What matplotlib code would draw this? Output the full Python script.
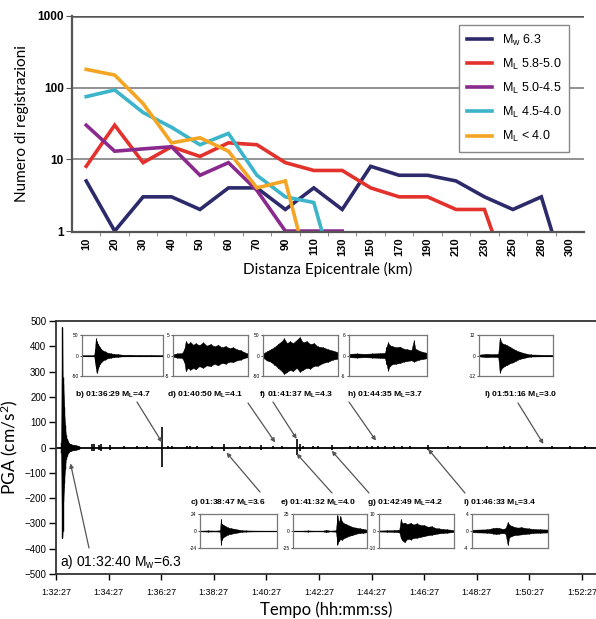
import numpy as np
import matplotlib
matplotlib.use('Agg')
import matplotlib.pyplot as plt

plt.rcParams['font.family'] = ['Liberation Sans', 'DejaVu Sans']
plt.rcParams['mathtext.default'] = 'regular'

W, H = 596, 619

# ---- top chart: number of records vs epicentral distance ----
dist_labels = ['10', '20', '30', '40', '50', '60', '70', '90', '110', '130',
               '150', '170', '190', '210', '230', '250', '280', '300']
nan = np.nan
mw_63 = [5, 1, 3, 3, 2, 4, 4, 2, 4, 2, 8, 6, 6, 5, 3, 2, 3, 0.15]
ml_58_50 = [8, 30, 9, 15, 11, 17, 16, 9, 7, 7, 4, 3, 3, 2, 2, 0.15, nan, nan]
ml_50_45 = [30, 13, 14, 15, 6, 9, 3.7, 1, 1, 1, nan, nan, nan, nan, nan, nan, nan, nan]
ml_45_40 = [75, 93, 45, 28, 16, 23, 6, 3, 2.5, 0.1, nan, nan, nan, nan, nan, nan, nan, nan]
ml_lt_40 = [180, 150, 60, 17, 20, 13, 4, 5, 0.15, nan, nan, nan, nan, nan, nan, nan, nan, nan]

series = [mw_63, ml_58_50, ml_50_45, ml_45_40, ml_lt_40]
series_names = ['M$_w$ 6.3', 'M$_L$ 5.8-5.0', 'M$_L$ 5.0-4.5', 'M$_L$ 4.5-4.0', 'M$_L$ < 4.0']
series_cols = ['#2d2a6c', '#e3312c', '#8a2a8e', '#3cb4c9', '#f4a524']

# ---- bottom chart: PGA time history ----
start_clock = '01:32:27'
tick_labels = ['1:32:27', '1:34:27', '1:36:27', '1:38:27', '1:40:27', '1:42:27',
               '1:44:27', '1:46:27', '1:48:27', '1:50:27', '1:52:27']

# main shock envelope (seconds after 1:32:27, cm/s2)
main_t = [12, 14, 15, 16, 17, 18, 19, 20, 21, 22, 24, 26, 28, 31, 35, 40, 46, 52]
main_hi = [20, 478, 277, 250, 210, 160, 120, 90, 65, 50, 35, 28, 20, 15, 12, 10, 8, 6]
main_lo = [-20, -358, -330, -211, -180, -140, -110, -85, -60, -45, -35, -25, -20, -15, -12, -10, -8, -6]

# smaller events along the trace
spike_t = [81, 87, 97, 103, 123, 156, 184, 207, 242, 256, 264, 298, 306, 321, 355, 383,
           420, 443, 468, 496, 515, 549, 556, 564, 587, 598, 629, 671, 690, 709, 720,
           735, 751, 770, 789, 808, 849, 895, 922, 983, 1021, 1036, 1074, 1131, 1173, 1207]
spike_hi = [12, 14, 8, 12, 8, 6, 5, 5, 80, 6, 5, 7, 7, 6, 4, 12,
            4, 4, 9, 5, 4, 34, 14, 6, 6, 4, 8, 4, 4, 6, 6,
            4, 4, 4, 4, 4, 9, 4, 4, 4, 4, 4, 7, 5, 6, 4]
spike_lo = [-12, -14, -8, -12, -8, -6, -5, -5, -78, -6, -5, -7, -7, -6, -4, -12,
            -4, -4, -9, -5, -4, -30, -14, -6, -6, -4, -8, -4, -4, -6, -6,
            -4, -4, -4, -4, -4, -9, -4, -4, -4, -4, -4, -7, -5, -6, -4]

# labelled events
ev_names = ['a', 'b', 'c', 'd', 'e', 'f', 'g', 'h', 'i', 'l']
ev_clock = ['01:32:40', '01:36:29', '01:38:47', '01:40:50', '01:41:32',
            '01:41:37', '01:42:49', '01:44:35', '01:46:33', '01:51:16']
ev_mtype = ['w', 'L', 'L', 'L', 'L', 'L', 'L', 'L', 'L', 'L']
ev_mag = ['6.3', '4.7', '3.6', '4.1', '4.0', '4.3', '4.2', '3.7', '3.4', '3.0']
ev_lim = [None, 50, 24, 5, 25, 50, 10, 6, 4, 12]

# inset envelopes (x = fraction of window, values in cm/s2)
env = {
    'b': ([0, 0.15, 0.16, 0.17, 0.18, 0.19, 0.20, 0.21, 0.22, 0.24, 0.26, 0.28, 0.30, 0.33, 0.36, 0.40, 0.45, 0.50, 0.6, 0.7, 0.85, 1.0],
          [1, 1, 15, 42, 35, 30, 28, 22, 20, 15, 12, 10, 8, 6, 5, 4, 3, 2, 2, 1.5, 1.5, 1],
          [-1, -1, -15, -30, -42, -38, -30, -25, -20, -16, -12, -10, -8, -6, -5, -4, -3, -2, -2, -1.5, -1.5, -1]),
    'd': ([0, 0.05, 0.12, 0.15, 0.17, 0.2, 0.23, 0.27, 0.3, 0.35, 0.4, 0.45, 0.5, 0.55, 0.6, 0.65, 0.7, 0.75, 0.8, 0.85, 0.9, 0.95, 1.0],
          [0.3, 0.5, 0.6, 1.5, 3.5, 2.8, 3.3, 2.6, 3.0, 2.5, 3.2, 2.4, 2.8, 2.2, 2.6, 2.0, 2.3, 1.8, 2.0, 1.5, 1.3, 0.8, 0.5],
          [-0.3, -0.5, -0.6, -1.5, -3.8, -3.0, -3.5, -3.0, -3.4, -2.6, -3.0, -2.4, -2.6, -2.0, -2.4, -1.8, -2.0, -1.5, -1.6, -1.2, -1.0, -0.6, -0.4]),
    'f': ([0, 0.05, 0.1, 0.15, 0.2, 0.25, 0.28, 0.32, 0.36, 0.4, 0.45, 0.49, 0.53, 0.58, 0.63, 0.68, 0.73, 0.8, 0.87, 0.93, 1.0],
          [5, 10, 15, 20, 28, 35, 42, 30, 35, 30, 38, 45, 32, 35, 28, 30, 22, 20, 15, 12, 8],
          [-5, -12, -15, -22, -30, -38, -45, -40, -35, -38, -30, -40, -35, -30, -32, -25, -25, -18, -15, -10, -8]),
    'h': ([0, 0.1, 0.2, 0.3, 0.4, 0.46, 0.48, 0.5, 0.52, 0.55, 0.6, 0.65, 0.7, 0.75, 0.8, 0.83, 0.85, 0.9, 0.95, 1.0],
          [0.5, 0.6, 0.5, 0.6, 0.7, 0.8, 2.5, 3.9, 3.0, 2.8, 2.4, 2.6, 2.0, 1.8, 1.6, 4.4, 2.0, 1.4, 1.0, 0.8],
          [-0.5, -0.6, -0.5, -0.6, -0.7, -0.8, -2.5, -4.4, -3.2, -2.6, -2.4, -2.2, -1.8, -1.6, -1.4, -1.8, -1.6, -1.2, -1.0, -0.8]),
    'l': ([0, 0.1, 0.2, 0.26, 0.28, 0.3, 0.32, 0.35, 0.38, 0.42, 0.46, 0.5, 0.55, 0.6, 0.65, 0.7, 0.8, 0.9, 1.0],
          [0.5, 1, 0.8, 1, 10.5, 8, 7, 6.5, 6, 5, 4, 3, 2.2, 1.5, 1, 0.6, 0.5, 0.4, 0.4],
          [-0.5, -1, -0.8, -1, -10, -8, -7, -6, -5.5, -4.5, -4, -3, -2, -1.5, -1, -0.6, -0.5, -0.4, -0.4]),
    'c': ([0, 0.1, 0.2, 0.26, 0.27, 0.28, 0.3, 0.33, 0.36, 0.4, 0.45, 0.5, 0.55, 0.6, 0.7, 0.8, 0.9, 1.0],
          [0.5, 0.8, 0.6, 1, 17, 10, 9, 7, 5, 4, 3, 2, 1, 0.8, 0.6, 0.5, 0.5, 0.5],
          [-0.5, -0.8, -0.6, -1, -19.5, -12, -9, -7, -5, -4, -3, -2, -1, -0.8, -0.6, -0.5, -0.5, -0.5]),
    'e': ([0, 0.1, 0.2, 0.3, 0.4, 0.45, 0.5, 0.58, 0.6, 0.62, 0.64, 0.66, 0.68, 0.72, 0.76, 0.8, 0.85, 0.9, 0.95, 1.0],
          [0.5, 0.5, 0.8, 0.5, 0.6, 1.5, 0.6, 1, 24, 12, 22, 14, 12, 10, 8, 6, 5, 4, 3, 2],
          [-0.5, -0.5, -0.8, -0.5, -0.6, -1.5, -0.6, -1, -20, -14, -12, -13, -11, -9, -7, -6, -4, -3, -2.5, -2]),
    'g': ([0, 0.1, 0.2, 0.27, 0.29, 0.31, 0.34, 0.38, 0.42, 0.46, 0.5, 0.55, 0.6, 0.65, 0.7, 0.75, 0.8, 0.85, 0.9, 1.0],
          [0.3, 0.4, 0.5, 0.8, 7, 4.5, 5, 4, 4.8, 3.8, 4.5, 3.5, 3.5, 2.5, 2.8, 1.8, 1.5, 1.2, 1, 0.6],
          [-0.3, -0.4, -0.5, -0.8, -4, -5.5, -6.5, -4.5, -5, -4, -4, -3.5, -3, -2.5, -2.2, -1.8, -1.4, -1.2, -1, -0.6]),
    'i': ([0, 0.1, 0.2, 0.28, 0.32, 0.36, 0.4, 0.44, 0.47, 0.49, 0.52, 0.55, 0.6, 0.65, 0.7, 0.75, 0.8, 0.9, 1.0],
          [0.3, 0.35, 0.4, 0.7, 0.8, 0.7, 0.5, 0.6, 2.1, 1.5, 1.2, 1.0, 0.8, 0.9, 0.7, 0.6, 0.5, 0.4, 0.35],
          [-0.3, -0.35, -0.4, -0.6, -0.7, -0.6, -0.5, -0.6, -3.3, -1.5, -1.2, -1.0, -0.9, -0.8, -0.7, -0.6, -0.5, -0.4, -0.35]),
}

# layout (pixels of the output image, y from top)
inset_box = {'b': (82, 335, 163, 376), 'd': (173, 335, 248, 376), 'f': (263, 335, 338, 376),
             'h': (349, 335, 427, 376), 'l': (479, 335, 553, 376), 'c': (200, 514, 277, 548),
             'e': (293, 514, 367, 548), 'g': (379, 514, 454, 548), 'i': (472, 514, 548, 548)}
text_pos = {'a': (60, 562), 'b': (75, 394), 'c': (190, 502), 'd': (167, 394), 'e': (280, 502),
            'f': (259, 394), 'g': (367, 502), 'h': (347, 394), 'i': (463, 502), 'l': (484, 394)}
arrow_tail = {'a': (89, 548), 'b': (137, 402), 'c': (260, 492), 'd': (248, 403), 'e': (332, 493),
              'f': (273, 402), 'g': (369, 493), 'h': (349, 402), 'i': (465, 493), 'l': (518, 403)}
arrow_tip = {'a': (20, -63), 'b': (0, 20), 'c': (9, -20), 'd': (-3, 20), 'e': (4, -24),
             'f': (-1, 34), 'g': (7, -13), 'h': (2, 27), 'i': (3, -6), 'l': (-17, 14)}


def secs(clock):
    h, m, s = [int(v) for v in clock.split(':')]
    return h * 3600 + m * 60 + s


def px_axes(fig, x0, y0, x1, y1):
    return fig.add_axes([x0 / W, 1 - y1 / H, (x1 - x0) / W, (y1 - y0) / H])


fig = plt.figure(figsize=(W / 100, H / 100), dpi=100)

# ================= top chart =================
ax1 = px_axes(fig, 72, 16, 584, 232)
xpos = np.arange(len(dist_labels))
for vals, name, col in zip(series, series_names, series_cols):
    ax1.plot(xpos, vals, color=col, lw=2.6, label=name, solid_joinstyle='miter')
ax1.set_yscale('log')
ax1.set_ylim(0.97, 1000)
ax1.set_xlim(-0.5, len(dist_labels) - 0.5)
ax1.set_yticks([1, 10, 100, 1000])
ax1.set_yticklabels(['1', '10', '100', '1000'], fontsize=8.5, fontweight='bold')
ax1.yaxis.set_minor_locator(matplotlib.ticker.NullLocator())
ax1.set_xticks(xpos)
ax1.set_xticklabels(dist_labels, rotation=90, fontsize=8, fontweight='bold')
ax1.set_xticks(xpos[:-1] + 0.5, minor=True)
ax1.tick_params(axis='x', which='major', length=0, pad=4)
ax1.tick_params(axis='x', which='minor', length=3, color='#777777')
ax1.tick_params(axis='y', length=4, color='#555555', pad=2)
for v in [10, 100, 1000]:
    ax1.axhline(v, color='#8a8a8a' if v < 1000 else '#555555', lw=1.3 if v < 1000 else 1.8, zorder=0)
ax1.spines['right'].set_visible(False)
ax1.spines['top'].set_visible(False)
ax1.spines['left'].set_color('#555555')
ax1.spines['left'].set_linewidth(1.6)
ax1.spines['bottom'].set_color('#555555')
ax1.spines['bottom'].set_linewidth(1.6)
leg = ax1.legend(loc='upper right', bbox_to_anchor=(0.971, 0.958), borderaxespad=0,
                 fontsize=9, handlelength=2.0, labelspacing=0.72, fancybox=False,
                 framealpha=1, edgecolor='#888888', borderpad=0.6, handletextpad=0.8)
leg.get_frame().set_linewidth(1.0)
ax1.set_ylabel('Numero di registrazioni', fontsize=11, family='Lato', labelpad=6)
ax1.set_xlabel('Distanza Epicentrale (km)', fontsize=11, family='Lato', labelpad=4)

# ================= bottom chart =================
t0 = secs(start_clock)
ax2 = px_axes(fig, 56, 321, 596, 574)
ax2.axhline(0, color='black', lw=1.3, zorder=2)
ax2.fill_between(main_t, main_lo, main_hi, color='black', lw=0.5, zorder=3)
ax2.vlines(main_t, main_lo, main_hi, color='black', lw=1.0, zorder=3)
ax2.vlines(spike_t, spike_lo, spike_hi, color='black', lw=1.2, zorder=3)
ax2.set_xlim(0, 1232)
ax2.set_ylim(-500, 500)
ax2.set_yticks(np.arange(-500, 501, 100))
ax2.tick_params(axis='y', labelsize=7, length=5, width=1, pad=2)
tick_secs = [secs('0' + lab) - t0 for lab in tick_labels]
ax2.set_xticks(tick_secs)
ax2.set_xticklabels(tick_labels, fontsize=6.5)
ax2.tick_params(axis='x', length=4, width=1, pad=6)
ax2.spines['right'].set_visible(False)
for sp in ['left', 'bottom', 'top']:
    ax2.spines[sp].set_linewidth(1.3)
    ax2.spines[sp].set_color('#333333')
ax2.set_ylabel('PGA (cm/s$^2$)', fontsize=12.5, family='Lato', labelpad=3)
ax2.set_xlabel('Tempo (hh:mm:ss)', fontsize=12, family='Lato', labelpad=3)

# event labels and arrows
for n, clk, mt, mg in zip(ev_names, ev_clock, ev_mtype, ev_mag):
    tx, ty = text_pos[n]
    big = n == 'a'
    fig.text(tx / W, 1 - ty / H, f'{n}) {clk} M$_{mt}$={mg}',
             fontsize=10 if big else 6.1, fontweight='normal' if big else 'bold',
             va='center', ha='left', color='black')
    dx, tip_y = arrow_tip[n]
    ax, ay = arrow_tail[n]
    ax2.annotate('', xy=(secs(clk) - t0 + dx, tip_y), xycoords='data',
                 xytext=(ax, H - ay), textcoords='figure pixels',
                 arrowprops=dict(arrowstyle='-|>', color='#555555', lw=0.9,
                                 mutation_scale=6, shrinkA=0, shrinkB=0), zorder=4)

# insets with the single-event records
for n, lim in zip(ev_names, ev_lim):
    if lim is None:
        continue
    x0, y0, x1, y1 = inset_box[n]
    axi = px_axes(fig, x0, y0, x1, y1)
    ex, ehi, elo = env[n]
    axi.axhline(0, color='black', lw=0.8)
    axi.fill_between(ex, elo, ehi, color='black', lw=0.3)
    axi.vlines(ex, elo, ehi, color='black', lw=0.7)
    axi.set_xlim(0, 1)
    axi.set_ylim(-lim, lim)
    axi.set_xticks([])
    axi.set_yticks([-lim, 0, lim])
    axi.set_yticklabels([str(-lim), '0', str(lim)], fontsize=3.5)
    axi.tick_params(axis='y', length=1.5, width=0.5, pad=1)
    for sp in axi.spines.values():
        sp.set_color('#777777')
        sp.set_linewidth(0.9)

fig.savefig('out.png', dpi=100)
